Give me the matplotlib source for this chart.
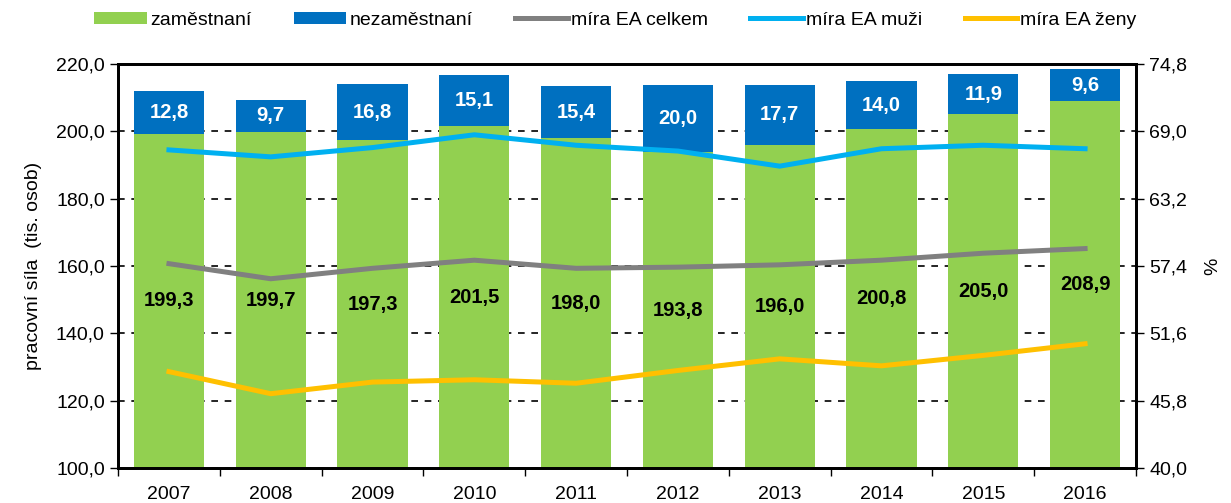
import matplotlib.pyplot as plt
import numpy as np

plt.rcParams['font.family'] = ['Liberation Sans', 'DejaVu Sans']

years = ['2007', '2008', '2009', '2010', '2011', '2012', '2013', '2014', '2015', '2016']
zamestnani = [199.3, 199.7, 197.3, 201.5, 198.0, 193.8, 196.0, 200.8, 205.0, 208.9]
nezamestnani = [12.8, 9.7, 16.8, 15.1, 15.4, 20.0, 17.7, 14.0, 11.9, 9.6]
ea_celkem = [57.6, 56.3, 57.2, 57.9, 57.2, 57.3, 57.5, 57.9, 58.5, 58.9]
ea_muzi = [67.4, 66.8, 67.6, 68.7, 67.8, 67.3, 66.0, 67.5, 67.8, 67.5]
ea_zeny = [48.3, 46.4, 47.4, 47.6, 47.3, 48.4, 49.4, 48.8, 49.7, 50.7]

c_green = '#92D050'
c_blue = '#0070C0'
c_grey = '#808080'
c_lblue = '#00B0F0'
c_yellow = '#FFC000'

fig = plt.figure(figsize=(12.31, 5.03), dpi=100)
ax = fig.add_axes([0.0959, 0.0696, 0.8269, 0.8032])
ax2 = ax.twinx()

x = np.arange(len(years))
w = 0.69
b1 = ax.bar(x, zamestnani, w, color=c_green, zorder=2, label='zaměstnaní')
b2 = ax.bar(x, nezamestnani, w, bottom=zamestnani, color=c_blue, zorder=2, label='nezaměstnaní')

ax.set_ylim(100, 220)
ax.set_xlim(-0.5, len(years) - 0.5)
ax.set_yticks(np.arange(100, 221, 20))
ax.set_yticklabels([f'{v:.1f}'.replace('.', ',') for v in np.arange(100, 221, 20)])
ax.yaxis.grid(True, color='black', linestyle=(0, (4, 4)), linewidth=1.2, zorder=0)
ax.set_axisbelow(True)

# popisky ve sloupcich
for i in range(len(years)):
    mid_g = (100 + zamestnani[i]) / 2
    ax.text(x[i], mid_g, f'{zamestnani[i]:.1f}'.replace('.', ','), ha='center', va='center',
            fontsize=14.5, fontweight='bold', color='black', zorder=5)
    mid_b = zamestnani[i] + nezamestnani[i] / 2
    ax.text(x[i], mid_b, f'{nezamestnani[i]:.1f}'.replace('.', ','), ha='center', va='center',
            fontsize=14.5, fontweight='bold', color='white', zorder=5)

ax2.set_ylim(40, 74.8)
rt = [40.0, 45.8, 51.6, 57.4, 63.2, 69.0, 74.8]
ax2.set_yticks(rt)
ax2.set_yticklabels([f'{v:.1f}'.replace('.', ',') for v in rt])
l1, = ax2.plot(x, ea_celkem, color=c_grey, lw=3.6, label='míra EA celkem', zorder=3)
l2, = ax2.plot(x, ea_muzi, color=c_lblue, lw=3.6, label='míra EA muži', zorder=3)
l3, = ax2.plot(x, ea_zeny, color=c_yellow, lw=3.6, label='míra EA ženy', zorder=3)

# ticky mezi kategoriemi
ax.set_xticks(x)
ax.set_xticklabels(years)
ax.tick_params(axis='x', which='major', length=0, labelsize=14, pad=13)
ax.set_xticks(np.arange(-0.5, len(years), 1), minor=True)
ax.tick_params(axis='x', which='minor', length=6, width=1, direction='out')
ax.tick_params(axis='y', labelsize=14, length=6, width=1)
ax2.tick_params(axis='y', labelsize=14, length=6, width=1)

for a in (ax, ax2):
    for s in a.spines.values():
        s.set_linewidth(2)
        s.set_color('black')

ax.set_ylabel('pracovní síla  (tis. osob)', fontsize=14, labelpad=10)
ax2.set_ylabel('%', fontsize=14, labelpad=12)

fig.legend(handles=[b1, b2, l1, l2, l3], loc='center', bbox_to_anchor=(0.5, 0.96), ncol=5,
           frameon=False, fontsize=14, handlelength=2.7, handletextpad=0.15, columnspacing=2.2,
           handleheight=0.6)

fig.savefig('out.png', dpi=100)
